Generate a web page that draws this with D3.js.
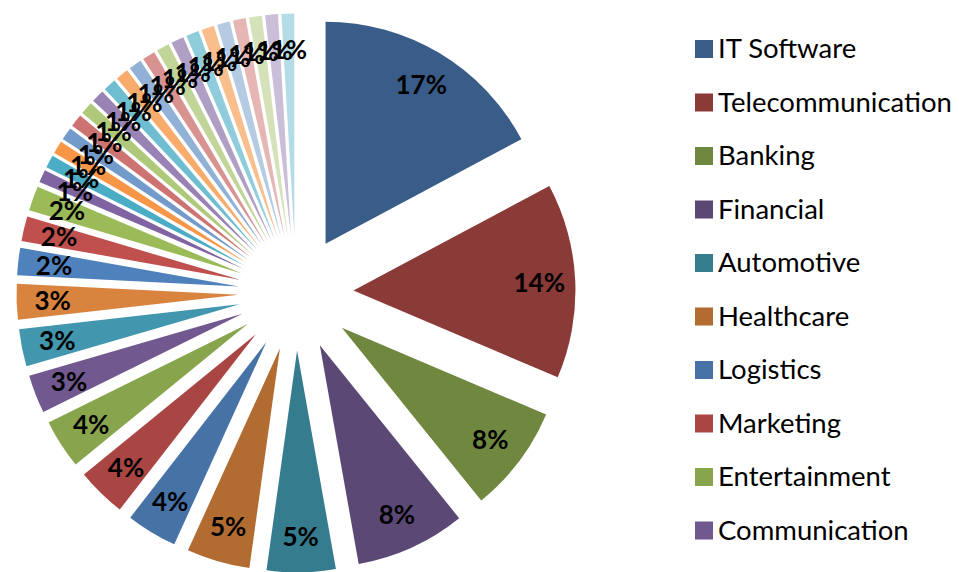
<!DOCTYPE html>
<html>
<head>
<meta charset="utf-8">
<script src="https://cdn.jsdelivr.net/npm/d3@7"></script>
<style>
    body { margin: 0; background: #fff; }
    svg { display: block; }
</style>
</head>
<body>
<div id="chart"></div>
<script>
// Legend only shows the first ten sectors (the rest don't fit)
const legendNames = [
    'IT Software', 'Telecommunication', 'Banking', 'Financial', 'Automotive',
    'Healthcare', 'Logistics', 'Marketing', 'Entertainment', 'Communication'
];

// Share of each slice, clockwise from 12 o'clock (35 slices)
const sectorShares = [
    17.2, 14.2, 7.8, 8.0, 5.0, 4.6, 3.7, 3.6, 3.6, 2.8, 2.7, 2.6, 2.0, 1.8, 1.8,
    0.93, 0.93, 0.93, 0.93, 0.93, 0.93, 0.93, 0.93, 0.93, 0.93,
    0.93, 0.93, 0.93, 0.93, 0.93, 0.93, 0.93, 0.93, 0.93, 0.93
];

const baseColors = ['#4F81BD', '#C0504D', '#9BBB59', '#8064A2', '#4BACC6', '#F79646'];

// Excel-ish shading: darker groups first, then lighter tints
function sliceColor(i) {
    const group = Math.floor(i / 6);
    const c = d3.rgb(baseColors[i % 6]);
    const shade = [0.72, 0.88, 1, 0, 0, 0][group];
    const tint = [0, 0, 0, 0.2, 0.38, 0.58][group];
    if (shade) return d3.rgb(c.r * shade, c.g * shade, c.b * shade);
    return d3.rgb(c.r + (255 - c.r) * tint, c.g + (255 - c.g) * tint, c.b + (255 - c.b) * tint);
}

const width = 959;
const height = 572;
const cx = 296, cy = 293;
const radius = 222;
const explode = 57.5;
const labelRadius = 186;

const svg = d3.select('#chart').append('svg')
    .attr('width', width)
    .attr('height', height);

const total = d3.sum(sectorShares);
const pct = d3.format('.0%');

const pie = d3.pie().sort(null).value(d => d);
const arcs = pie(sectorShares);

const arc = d3.arc().innerRadius(0).outerRadius(radius);
const labelArc = d3.arc().innerRadius(labelRadius).outerRadius(labelRadius);

function offset(d) {
    const a = (d.startAngle + d.endAngle) / 2;
    return [explode * Math.sin(a), -explode * Math.cos(a)];
}

const pieGroup = svg.append('g')
    .attr('transform', `translate(${cx},${cy})`);

pieGroup.selectAll('path')
    .data(arcs)
    .join('path')
    .attr('d', arc)
    .attr('fill', (d, i) => sliceColor(i))
    .attr('transform', d => `translate(${offset(d)})`);

pieGroup.selectAll('text')
    .data(arcs)
    .join('text')
    .attr('transform', d => {
        const [ox, oy] = offset(d);
        const [lx, ly] = labelArc.centroid(d);
        return `translate(${lx + ox},${ly + oy})`;
    })
    .attr('text-anchor', 'middle')
    .attr('dy', '0.36em')
    .attr('font-family', 'Lato, sans-serif')
    .attr('font-weight', 'bold')
    .attr('font-size', 26)
    .attr('fill', '#000')
    .text(d => pct(d.value / total));

// Legend
const legend = svg.append('g')
    .attr('transform', 'translate(695,40)');

const item = legend.selectAll('g')
    .data(legendNames)
    .join('g')
    .attr('transform', (d, i) => `translate(0,${i * 53.5})`);

item.append('rect')
    .attr('width', 18)
    .attr('height', 18)
    .attr('fill', (d, i) => sliceColor(i));

item.append('text')
    .attr('x', 23)
    .attr('y', 18)
    .attr('font-family', 'Lato, sans-serif')
    .attr('font-size', 27.5)
    .attr('fill', '#000')
    .text(d => d);
</script>
</body>
</html>
